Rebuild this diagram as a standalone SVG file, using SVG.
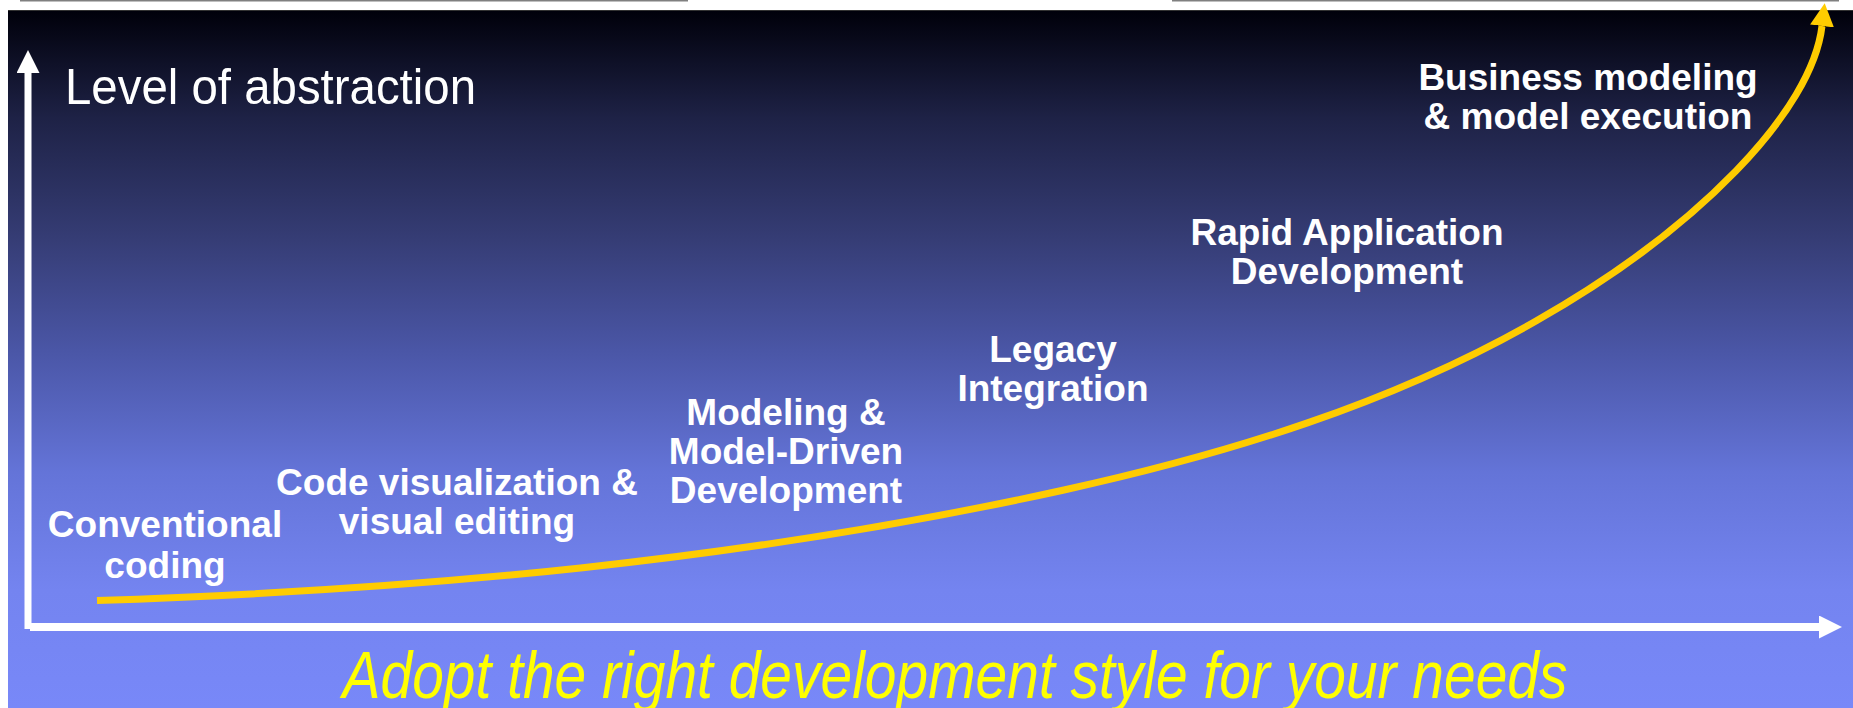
<svg xmlns="http://www.w3.org/2000/svg" width="1853" height="708" viewBox="0 0 1853 708">
<defs>
<linearGradient id="bg" x1="0" y1="10" x2="0" y2="708" gradientUnits="userSpaceOnUse">
<stop offset="0" stop-color="#00000a"/>
<stop offset="0.155" stop-color="#1e2246"/>
<stop offset="0.324" stop-color="#353c74"/>
<stop offset="0.494" stop-color="#4b57a8"/>
<stop offset="0.663" stop-color="#6474d8"/>
<stop offset="0.832" stop-color="#7484f0"/>
<stop offset="1" stop-color="#7888f8"/>
</linearGradient>
<marker id="wArrow" markerUnits="userSpaceOnUse" viewBox="0 0 23 23" refX="0" refY="11.5" markerWidth="23" markerHeight="23" orient="auto">
<path d="M0,0 L23,11.5 L0,23 z" fill="#ffffff"/>
</marker>
<marker id="yArrow" markerUnits="userSpaceOnUse" viewBox="0 0 23 24" refX="0" refY="12" markerWidth="23" markerHeight="24" orient="auto">
<path d="M0,0 L23,12 L0,24 z" fill="#ffcc00"/>
</marker>
</defs>
<style>
.lbl{font-family:"Liberation Sans",Arial,sans-serif;font-weight:bold;font-size:37px;fill:#ffffff;text-anchor:middle}
.axis{stroke:#ffffff;fill:none}
</style>
<rect x="0" y="0" width="1853" height="708" fill="#ffffff"/>
<line x1="20" y1="0.5" x2="688" y2="0.5" stroke="#808080" stroke-width="2"/>
<line x1="1172" y1="0.5" x2="1839" y2="0.5" stroke="#808080" stroke-width="2"/>
<rect x="8" y="10" width="1845" height="698" fill="url(#bg)"/>
<line x1="8" y1="10.5" x2="1853" y2="10.5" stroke="#333333" stroke-width="1"/>

<g id="connectors">
<path class="axis" d="M28,629 L28,73" stroke-width="7" marker-end="url(#wArrow)"/>
<path class="axis" d="M30,627 L1819,627" stroke-width="8" marker-end="url(#wArrow)"/>
<path d="M97,600.5 C419,590 742,561 1064,490 C1227,454 1391,404 1536,321 C1698,229 1812,111 1822,26" fill="none" stroke="#ffcc00" stroke-width="7" marker-end="url(#yArrow)"/>
</g>

<g id="axis-label">
<text x="65" y="104" font-family="'Liberation Sans',Arial,sans-serif" font-size="50" fill="#ffffff" textLength="411" lengthAdjust="spacingAndGlyphs">Level of abstraction</text>
</g>

<g id="node-conventional">
<text class="lbl" x="165" y="537">Conventional</text>
<text class="lbl" x="165" y="578">coding</text>
</g>
<g id="node-codevis">
<text class="lbl" x="457" y="495">Code visualization &amp;</text>
<text class="lbl" x="457" y="534">visual editing</text>
</g>
<g id="node-modeling">
<text class="lbl" x="786" y="425">Modeling &amp;</text>
<text class="lbl" x="786" y="464">Model-Driven</text>
<text class="lbl" x="786" y="503">Development</text>
</g>
<g id="node-legacy">
<text class="lbl" x="1053" y="362">Legacy</text>
<text class="lbl" x="1053" y="401">Integration</text>
</g>
<g id="node-rad">
<text class="lbl" x="1347" y="245">Rapid Application</text>
<text class="lbl" x="1347" y="284">Development</text>
</g>
<g id="node-business">
<text class="lbl" x="1588" y="90">Business modeling</text>
<text class="lbl" x="1588" y="129">&amp; model execution</text>
</g>

<g id="caption">
<text x="955" y="698" font-family="'Liberation Sans',Arial,sans-serif" font-style="italic" font-size="66" fill="#ffff00" text-anchor="middle" textLength="1225" lengthAdjust="spacingAndGlyphs">Adopt the right development style for your needs</text>
</g>
</svg>
